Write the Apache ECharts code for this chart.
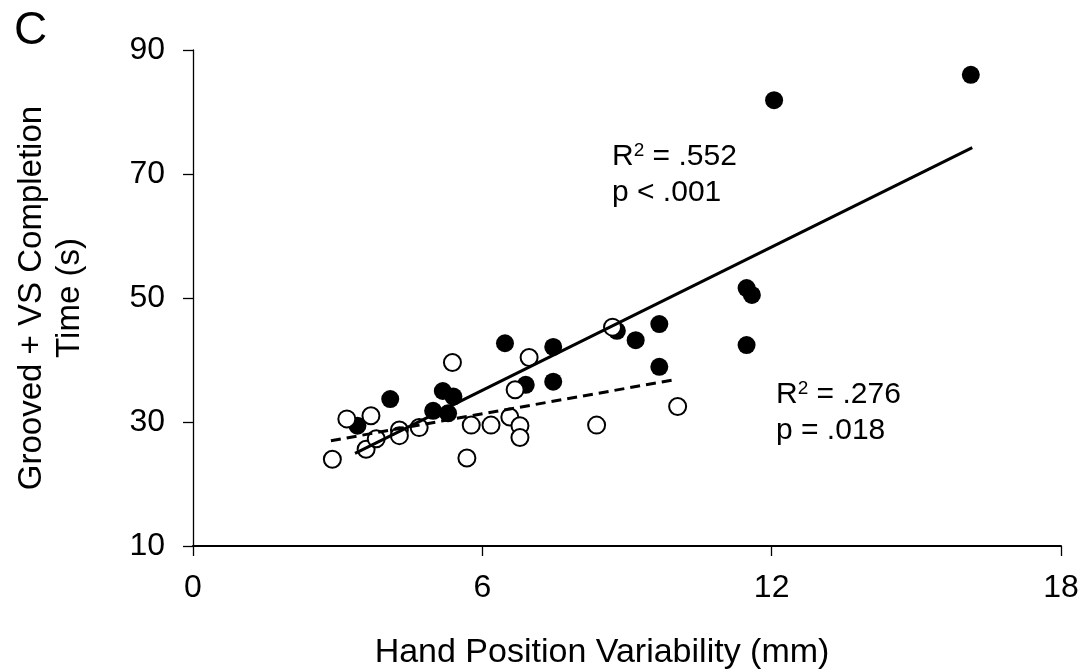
<!DOCTYPE html>
<html>
<head>
<meta charset="utf-8">
<script src="https://cdn.jsdelivr.net/npm/echarts@6/dist/echarts.min.js"></script>
<style>
html,body{margin:0;padding:0;background:#fff;}
#chart{width:1081px;height:670px;}
</style>
</head>
<body>
<div id="chart"></div>
<script>
// Filled circles (x = hand position variability mm, y = completion time s)
var filledX = [16.13, 12.05, 11.48, 11.59, 11.48, 9.67, 9.18, 9.67, 8.79, 6.47, 7.47, 7.47, 6.90, 4.09, 5.18, 5.40, 4.98, 5.29, 3.41];
var filledY = [86.0, 81.9, 51.6, 50.5, 42.4, 45.8, 43.2, 38.9, 44.7, 42.7, 42.1, 36.5, 36.0, 33.7, 35.0, 34.1, 31.8, 31.4, 29.4];
// Open circles
var openX = [2.89, 3.19, 3.69, 3.59, 3.80, 4.28, 4.28, 4.69, 5.38, 5.68, 5.77, 6.18, 6.57, 6.78, 6.78, 6.68, 6.97, 8.70, 8.37, 10.05];
var openY = [24.0, 30.5, 31.0, 25.6, 27.3, 28.7, 27.8, 29.1, 39.6, 24.2, 29.5, 29.5, 30.8, 29.4, 27.5, 35.2, 40.4, 45.3, 29.5, 32.5];
// Fitted regression lines (endpoints)
var solidFitX = [3.36, 16.16];
var solidFitY = [24.95, 74.24];
var dashedFitX = [2.86, 9.95];
var dashedFitY = [26.98, 36.77];
// Axis ticks
var xTicks = [0, 6, 12, 18];
var yTicks = [10, 30, 50, 70, 90];

function zip(a, b) { return a.map(function (v, i) { return [v, b[i]]; }); }

var FONT = "'Liberation Sans', Arial, sans-serif";
var chart = echarts.init(document.getElementById('chart'), null, {renderer: 'canvas'});
var rich = {
  b: {fontSize: 30, fontFamily: FONT, color: '#000', lineHeight: 36},
  sup: {fontSize: 19, fontFamily: FONT, color: '#000', padding: [0, 0, 13, 0], lineHeight: 36}
};
chart.setOption({
  animation: false,
  backgroundColor: '#fff',
  grid: {left: 193, right: 20, top: 50, bottom: 124, containLabel: false, outerBoundsMode: 'none'},
  xAxis: {
    type: 'value', min: xTicks[0], max: xTicks[xTicks.length - 1], interval: 6,
    axisLine: {lineStyle: {color: '#000', width: 2}},
    axisTick: {show: true, inside: false, length: 10, lineStyle: {color: '#000', width: 1.3}},
    axisLabel: {color: '#000', fontSize: 32, fontFamily: FONT, margin: 26},
    splitLine: {show: false},
    name: 'Hand Position Variability (mm)', nameLocation: 'middle', nameGap: 90,
    nameTextStyle: {color: '#000', fontSize: 34, fontFamily: FONT, padding: [0, 50, 0, 0]}
  },
  yAxis: {
    type: 'value', min: yTicks[0], max: yTicks[yTicks.length - 1], interval: 20,
    axisLine: {lineStyle: {color: '#000', width: 1.3}},
    axisTick: {show: true, inside: false, length: 10, lineStyle: {color: '#000', width: 1.3}},
    axisLabel: {color: '#000', fontSize: 32, fontFamily: FONT, margin: 28},
    splitLine: {show: false},
    name: 'Grooved + VS Completion\nTime (s)', nameLocation: 'middle', nameGap: 104,
    nameTextStyle: {color: '#000', fontSize: 33, fontFamily: FONT, lineHeight: 38, align: 'center'}
  },
  graphic: [
    {type: 'text', left: 14, top: 8, style: {text: 'C', fontSize: 46, fontFamily: FONT, fill: '#000'}},
    {type: 'text', left: 612, top: 141, style: {text: '{b|R}{sup|2}{b| = .552}\n{b|p < .001}', rich: rich}},
    {type: 'text', left: 776, top: 379, style: {text: '{b|R}{sup|2}{b| = .276}\n{b|p = .018}', rich: rich}}
  ],
  series: [
    {
      type: 'scatter', data: zip(filledX, filledY), symbol: 'circle', symbolSize: 18,
      itemStyle: {color: '#000', opacity: 1}, z: 2
    },
    {
      type: 'scatter', data: zip(openX, openY), symbol: 'circle', symbolSize: 17,
      itemStyle: {color: '#fff', borderColor: '#000', borderWidth: 2, opacity: 1}, z: 3
    },
    {
      type: 'line', data: zip(solidFitX, solidFitY), showSymbol: false, symbol: 'none',
      lineStyle: {color: '#000', width: 3}, z: 4
    },
    {
      type: 'line', data: zip(dashedFitX, dashedFitY), showSymbol: false, symbol: 'none',
      lineStyle: {color: '#000', width: 3, type: [10, 6]}, z: 4
    }
  ]
});
</script>
</body>
</html>
